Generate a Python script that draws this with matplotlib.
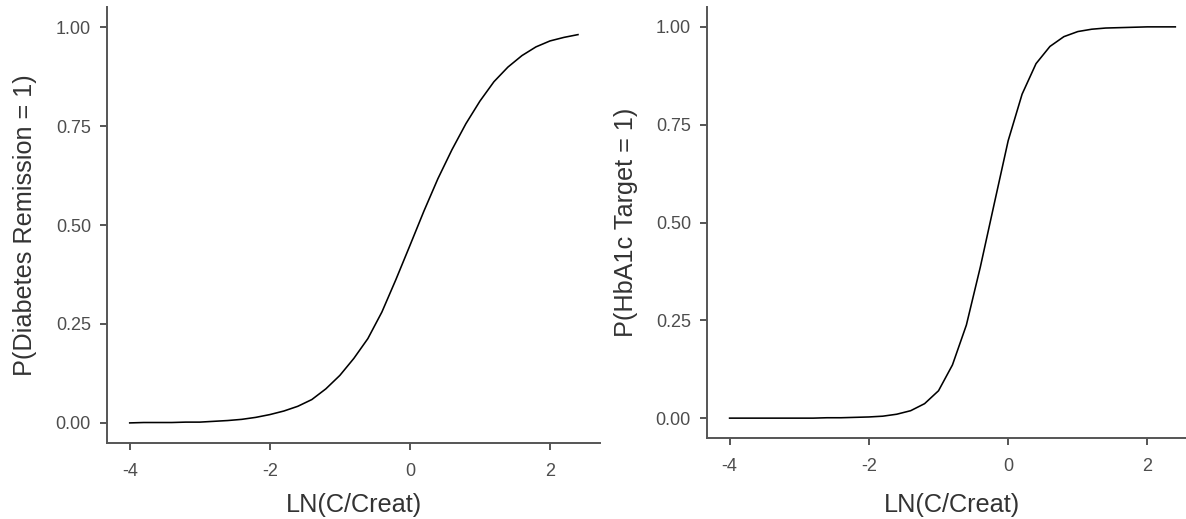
import numpy as np
import matplotlib
matplotlib.use("Agg")
import matplotlib.pyplot as plt

plt.rcParams['font.family'] = ['Liberation Sans', 'DejaVu Sans']

# values
x_left = [-4.0, -3.8, -3.6, -3.4, -3.2, -3.0, -2.8, -2.6, -2.4, -2.2, -2.0,
          -1.8, -1.6, -1.4, -1.2, -1.0, -0.8, -0.6, -0.4, -0.2, 0.0,
          0.2, 0.4, 0.6, 0.8, 1.0, 1.2, 1.4, 1.6, 1.8, 2.0, 2.2, 2.4]
p_remission = [0.000, 0.001, 0.001, 0.001, 0.002, 0.002, 0.004, 0.006, 0.009, 0.014, 0.021,
               0.030, 0.042, 0.059, 0.086, 0.120, 0.163, 0.213, 0.280, 0.362, 0.448,
               0.535, 0.617, 0.690, 0.756, 0.813, 0.862, 0.899, 0.928, 0.950, 0.965, 0.974, 0.981]

x_right = x_left
p_hba1c = [0.000, 0.000, 0.000, 0.000, 0.000, 0.000, 0.000, 0.001, 0.001, 0.002, 0.003,
           0.005, 0.010, 0.019, 0.037, 0.070, 0.136, 0.238, 0.386, 0.548, 0.709,
           0.828, 0.906, 0.950, 0.975, 0.988, 0.994, 0.997, 0.998, 0.999, 1.000, 1.000, 1.000]

x_ticks = [-4, -2, 0, 2]
y_ticks = [0.0, 0.25, 0.5, 0.75, 1.0]
y_tick_labels = ["0.00", "0.25", "0.50", "0.75", "1.00"]

W, H = 1186, 519
fig = plt.figure(figsize=(W / 100, H / 100), dpi=100)

# axes boxes in pixels: left, top, right, bottom
ax1 = fig.add_axes([107.3 / W, (H - 442.7) / H, (600.4 - 107.3) / W, (442.7 - 7.3) / H])
ax2 = fig.add_axes([707.3 / W, (H - 437.7) / H, (1197.6 - 707.3) / W, (437.7 - 7.3) / H])


def style(ax, xs, ys, ylabel, ylab_x, xlab_y):
    ax.plot(xs, ys, color='black', lw=1.15)
    ax.set_xlim(-4.32, 2.72)
    ax.set_ylim(-0.05, 1.05)
    ax.set_xticks(x_ticks)
    ax.set_xticklabels([str(t) for t in x_ticks])
    ax.set_yticks(y_ticks)
    ax.set_yticklabels(y_tick_labels)
    for s in ['top', 'right']:
        ax.spines[s].set_visible(False)
    for s in ['left', 'bottom']:
        ax.spines[s].set_color('#555555')
        ax.spines[s].set_linewidth(1.4)
    ax.tick_params(axis='both', length=5, width=1.4, color='#555555',
                   labelsize=13, labelcolor='#4d4d4d')
    ax.tick_params(axis='x', pad=9.6)
    ax.tick_params(axis='y', pad=6.8)
    ax.set_xlabel("LN(C/Creat)", fontsize=18.2, color='#333333')
    ax.set_ylabel(ylabel, fontsize=18.2, color='#333333')
    ax.yaxis.set_label_coords(ylab_x, 0.5)
    ax.xaxis.set_label_coords(0.5, xlab_y)


style(ax1, x_left, p_remission, "P(Diabetes Remission = 1)", -0.1427, -0.1155)
style(ax2, x_right, p_hba1c, "P(HbA1c Target = 1)", -0.1407, -0.1285)

fig.savefig("out.png", dpi=100)
